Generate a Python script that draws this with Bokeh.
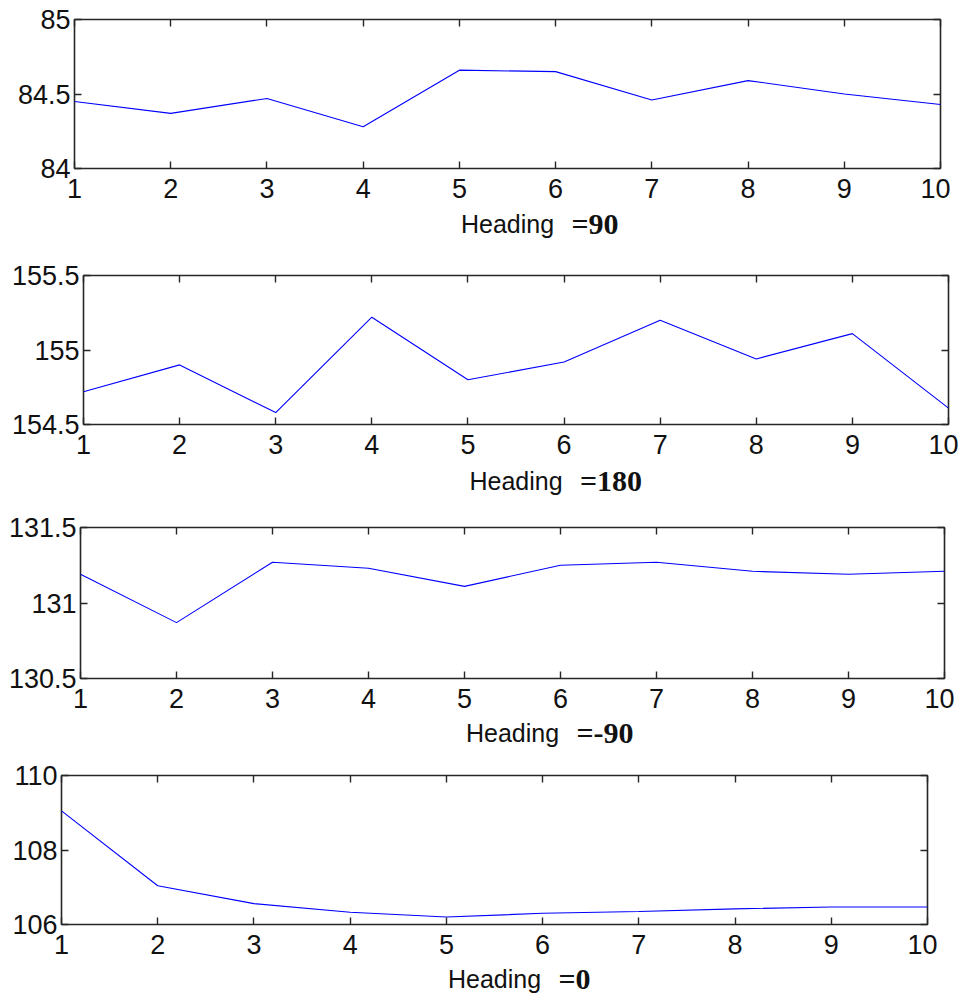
from bokeh.plotting import figure
from bokeh.models import Range1d, FixedTicker, LinearAxis, Label
from bokeh.embed import file_html
from bokeh.resources import INLINE

# ---- data ----
x_vals = [1, 2, 3, 4, 5, 6, 7, 8, 9, 10]
x_tick_labels = ["1", "2", "3", "4", "5", "6", "7", "8", "9", "10"]

heading_names = ["=90", "=180", "=-90", "=0"]

y_heading_90 = [84.45, 84.37, 84.47, 84.28, 84.66, 84.65, 84.46, 84.59, 84.50, 84.43]
y_heading_180 = [154.72, 154.90, 154.58, 155.22, 154.80, 154.92, 155.20, 154.94, 155.11, 154.61]
y_heading_m90 = [131.19, 130.87, 131.27, 131.23, 131.11, 131.25, 131.27, 131.21, 131.19, 131.21]
y_heading_0 = [109.05, 107.04, 106.56, 106.33, 106.20, 106.30, 106.35, 106.42, 106.47, 106.47]

y_ticks_90 = [84, 84.5, 85]
y_tick_labels_90 = ["84", "84.5", "85"]
y_ticks_180 = [154.5, 155, 155.5]
y_tick_labels_180 = ["154.5", "155", "155.5"]
y_ticks_m90 = [130.5, 131, 131.5]
y_tick_labels_m90 = ["130.5", "131", "131.5"]
y_ticks_0 = [106, 108, 110]
y_tick_labels_0 = ["106", "108", "110"]

series = [y_heading_90, y_heading_180, y_heading_m90, y_heading_0]
yticks = [y_ticks_90, y_ticks_180, y_ticks_m90, y_ticks_0]
yticklabels = [y_tick_labels_90, y_tick_labels_180, y_tick_labels_m90, y_tick_labels_0]

# ---- layout (page pixels) ----
frame_left = [74, 83, 80, 61]
frame_w = [866, 865, 864, 866]
frame_top = [19, 275, 527, 775]
frame_h = [149, 149, 151, 149]
title_baseline = [233, 490, 742, 988]
BASELINE_FIX = 10
PAGE_H = 998
BORDER_TOP = 18
BORDER_BOTTOM = 44
BORDER_RIGHT = 10
OVERLAP = 30
EQ_SHIFT = 64

SANS = "Liberation Sans"
SERIF = "Liberation Serif"
BOX = "#262626"
TXT = "#111111"

roots = []
cursor = 0
for i in range(4):
    bl, fw, fh = frame_left[i], frame_w[i], frame_h[i]
    bt = frame_top[i] - cursor
    ys = series[i]
    yt = yticks[i]
    ytl = yticklabels[i]
    p = figure(
        frame_width=fw, frame_height=fh,
        min_border_left=bl, min_border_right=BORDER_RIGHT,
        min_border_top=bt, min_border_bottom=BORDER_BOTTOM,
        x_range=Range1d(x_vals[0], x_vals[-1]),
        y_range=Range1d(yt[0], yt[-1]),
        output_backend="svg", toolbar_location=None,
        background_fill_color="white", border_fill_color="white",
    )
    p.xgrid.visible = False
    p.ygrid.visible = False
    p.outline_line_color = BOX
    p.outline_line_width = 1.6

    p.line(x_vals, ys, line_color="#0000ff", line_width=1.1)

    # extra axes for top/right ticks
    p.add_layout(LinearAxis(), "above")
    p.add_layout(LinearAxis(), "right")

    for ax in p.xaxis:
        ax.ticker = FixedTicker(ticks=x_vals)
        ax.major_label_overrides = {v: s for v, s in zip(x_vals, x_tick_labels)}
    for ax in p.yaxis:
        ax.ticker = FixedTicker(ticks=yt)
        ax.major_label_overrides = {v: s for v, s in zip(yt, ytl)}

    for ax in list(p.xaxis) + list(p.yaxis):
        ax.axis_line_color = None
        ax.major_tick_in = 7
        ax.major_tick_out = 0
        ax.major_tick_line_color = BOX
        ax.major_tick_line_width = 1.4
        ax.minor_tick_line_color = None
        ax.major_label_text_font = SANS
        ax.major_label_text_font_size = "27px"
        ax.major_label_text_color = TXT

    p.below[0].major_label_standoff = 10
    p.left[0].major_label_standoff = 4
    for ax in (p.above[0], p.right[0]):
        ax.major_label_text_font_size = "0px"
        ax.major_label_text_color = None
        ax.major_label_standoff = 0
    roots.append(p)

    cursor = frame_top[i] + fh + BORDER_BOTTOM
    # transparent title strip, pulled up to overlap the panel's bottom border
    next_top = frame_top[i + 1] - BORDER_TOP if i < 3 else PAGE_H
    th = next_top - cursor + OVERLAP
    t = figure(
        frame_width=bl + fw + BORDER_RIGHT, frame_height=th,
        min_border=0, x_range=Range1d(0, 1), y_range=Range1d(0, 1),
        x_axis_location=None, y_axis_location=None,
        output_backend="svg", toolbar_location=None,
        background_fill_color=None, border_fill_color=None,
        styles={"margin-top": f"-{OVERLAP}px"},
    )
    t.xgrid.visible = False
    t.ygrid.visible = False
    t.outline_line_color = None
    ty = next_top - title_baseline[i] + BASELINE_FIX
    cx = bl + fw / 2
    t.add_layout(Label(x=cx, y=ty, x_units="screen", y_units="screen",
                       text="Heading", text_align="center",
                       text_baseline="alphabetic", text_font=SANS,
                       text_font_size="25px", text_color=TXT))
    t.add_layout(Label(x=cx + EQ_SHIFT, y=ty, x_units="screen", y_units="screen",
                       text=heading_names[i],
                       text_align="left", text_baseline="alphabetic",
                       text_font=SERIF, text_font_style="bold",
                       text_font_size="30px", text_color=TXT))
    roots.append(t)
    cursor = next_top

open("out.html", "w").write(file_html(roots, INLINE))
